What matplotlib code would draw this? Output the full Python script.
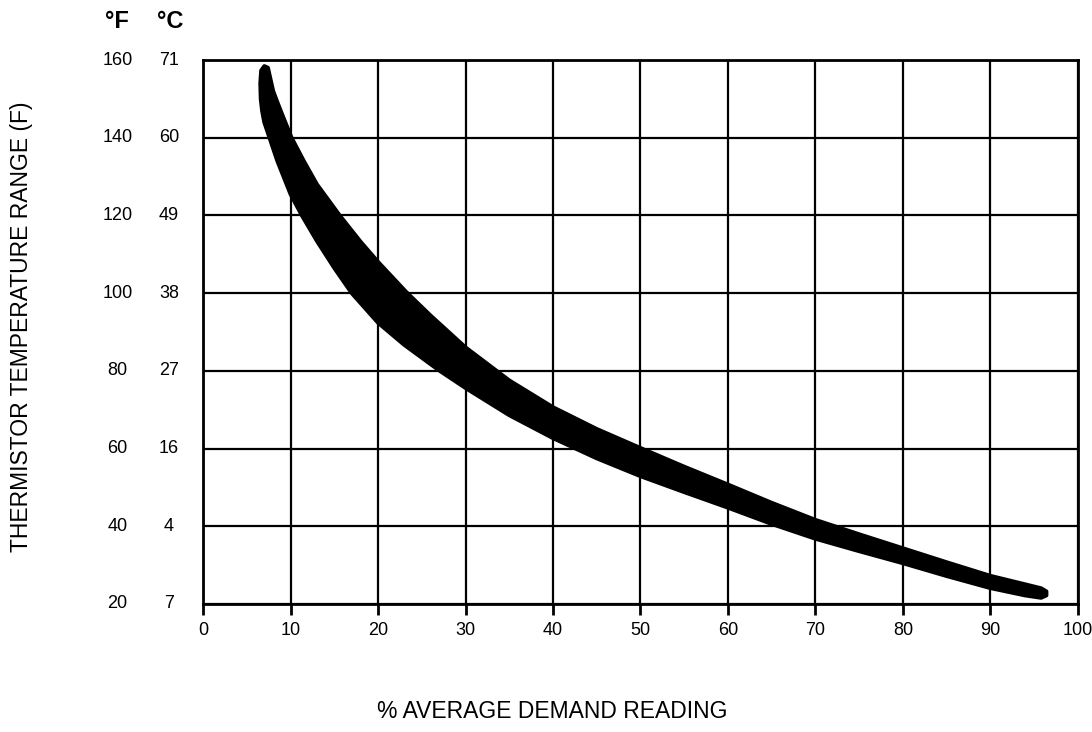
import numpy as np
import matplotlib.pyplot as plt

plt.rcParams['font.family'] = ['Liberation Sans Narrow', 'Liberation Sans', 'DejaVu Sans']

# tick values
x_ticks = [0, 10, 20, 30, 40, 50, 60, 70, 80, 90, 100]
temp_f = [20, 40, 60, 80, 100, 120, 140, 160]
temp_c = ["7", "4", "16", "27", "38", "49", "60", "71"]

# band edges (x = % demand, y = deg F)
upper_x = [7.0, 7.4, 7.7, 8.0, 8.5, 9.2, 10.1, 11.5, 13.0, 15.6, 18.0, 20.0, 23.2, 26.0, 30.0,
           35.0, 40.0, 45.0, 50.0, 55.0, 60.0, 65.0, 70.0, 75.0, 80.0, 85.0, 90.0, 94.0, 95.8, 96.4]
upper_y = [158.4, 158.0, 155.0, 152.0, 149.0, 145.0, 140.0, 134.0, 128.0, 120.0, 113.2, 108.0, 100.3, 94.2, 86.0,
           77.5, 70.6, 65.0, 60.1, 55.3, 50.7, 46.0, 41.6, 37.9, 34.3, 30.7, 27.2, 25.0, 24.0, 23.2]
lower_x = [6.65, 6.55, 6.6, 6.75, 7.0, 7.6, 8.5, 10.0, 11.3, 13.0, 15.0, 17.0, 20.0, 23.0, 27.0, 30.0,
           35.0, 40.0, 45.0, 50.0, 55.0, 60.0, 65.0, 70.0, 75.0, 80.0, 85.0, 90.0, 94.0, 95.8, 96.4]
lower_y = [157.3, 154.0, 150.0, 147.0, 144.0, 140.0, 134.0, 125.5, 120.0, 113.5, 106.5, 100.0, 92.4, 86.7, 80.1, 75.6,
           68.6, 62.7, 57.5, 52.9, 48.8, 44.8, 40.6, 36.8, 33.6, 30.5, 27.2, 24.1, 22.2, 21.6, 22.2]

fig = plt.figure(figsize=(10.92, 7.32), dpi=100)
ax = fig.add_axes([0.186, 0.175, 0.801, 0.743])

# the shaded band (polygon of upper edge then lower edge reversed)
poly_x = upper_x + lower_x[::-1]
poly_y = upper_y + lower_y[::-1]
ax.fill(poly_x, poly_y, color="black", linewidth=3, edgecolor="black", joinstyle="round", zorder=3)

ax.set_xlim(0, 100)
ax.set_ylim(20, 160)
ax.set_xticks(x_ticks)
ax.set_xticklabels([str(v) for v in x_ticks], fontsize=13)
ax.set_yticks(temp_f)
ax.set_yticklabels([])
ax.tick_params(axis="x", direction="out", length=8, width=2, pad=5, colors="black")
ax.tick_params(axis="y", length=0)
ax.grid(True, color="black", linewidth=1.6)
for s in ax.spines.values():
    s.set_linewidth(2)

# two columns of y labels, deg F and deg C
for f, c in zip(temp_f, temp_c):
    ax.text(-0.098, f, str(f), transform=ax.get_yaxis_transform(), ha="center", va="center", fontsize=13)
    ax.text(-0.039, f, c, transform=ax.get_yaxis_transform(), ha="center", va="center", fontsize=13)

fig.text(117 / 1092, 1 - 21 / 732, "°F", ha="center", va="center", fontsize=17, fontweight="bold")
fig.text(170 / 1092, 1 - 21 / 732, "°C", ha="center", va="center", fontsize=17, fontweight="bold")

fig.text(22 / 1092, 1 - 327 / 732, "THERMISTOR TEMPERATURE RANGE (F)", rotation=90,
         ha="center", va="center", fontsize=16.5)
fig.text(552 / 1092, 1 - 712 / 732, "% AVERAGE DEMAND READING", ha="center", va="center", fontsize=16.5)

fig.savefig("out.png", dpi=100)
